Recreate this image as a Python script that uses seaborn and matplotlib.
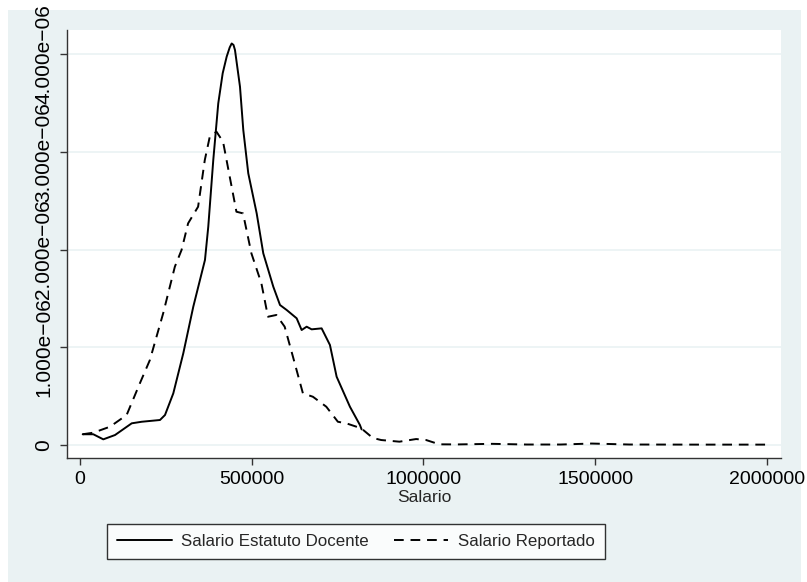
import matplotlib
matplotlib.use('Agg')
import matplotlib.pyplot as plt
import seaborn as sns
import numpy as np
import pandas as pd
from matplotlib.patches import Rectangle

# kernel density, values (y in units of 1e-06)
x_docente = [7850, 38700, 67800, 101900, 150600, 179700, 232900, 247500, 271700,
             300800, 329900, 363900, 373500, 388100, 402600, 415500, 427100,
             436000, 441700, 447000, 451300, 465900, 475500, 490000, 514500, 533700, 562900,
             582400, 601800, 630900, 645400, 660000, 674500, 703600, 727800,
             747300, 786000, 815100, 820000]
y_docente = [0.110, 0.110, 0.058, 0.102, 0.222, 0.238, 0.256, 0.307, 0.529,
             0.939, 1.416, 1.894, 2.234, 2.917, 3.497, 3.805, 3.975,
             4.070, 4.110, 4.095, 4.043, 3.667, 3.224, 2.781, 2.371, 1.962, 1.620,
             1.433, 1.382, 1.297, 1.177, 1.211, 1.184, 1.194, 1.024,
             0.699, 0.392, 0.205, 0.160]

x_reportado = [7850, 38700, 87200, 135800, 174400, 203500, 242200, 276200,
               295700, 314800, 343900, 363400, 377900, 397400, 416600, 436000,
               455500, 474700, 499100, 528200, 547400, 571800, 596000, 620100,
               649100, 678200, 717200, 750900, 775300, 818900, 852600, 877000,
               930200, 978700, 1007800, 1046500, 1100000, 1200000, 1300000,
               1400000, 1490000, 1600000, 1800000, 2000000]
y_reportado = [0.110, 0.126, 0.187, 0.307, 0.632, 0.870, 1.348, 1.825,
               1.996, 2.269, 2.439, 2.917, 3.156, 3.207, 3.104, 2.746,
               2.388, 2.371, 1.962, 1.655, 1.313, 1.331, 1.211, 0.904,
               0.529, 0.494, 0.392, 0.238, 0.222, 0.171, 0.072, 0.051,
               0.034, 0.061, 0.051, 0.007, 0.006, 0.012, 0.005,
               0.005, 0.015, 0.005, 0.004, 0.004]

x_ticks = [0, 500000, 1000000, 1500000, 2000000]
y_ticks = [0, 1, 2, 3, 4]
y_ticklabels = ['0', '1.000e\u221206', '2.000e\u221206', '3.000e\u221206', '4.000e\u221206']

df1 = pd.DataFrame({'x': x_docente, 'y': np.array(y_docente) * 1e-6})
df2 = pd.DataFrame({'x': x_reportado, 'y': np.array(y_reportado) * 1e-6})

sns.set_style('white')
plt.rcParams['font.family'] = ['Liberation Sans', 'DejaVu Sans']

W, H = 807, 582
fig = plt.figure(figsize=(W / 100, H / 100), dpi=100)
fig.patch.set_facecolor('white')
bg = '#eaf2f3'
fig.patches.append(Rectangle((8 / W, 0), (801 - 8) / W, 1 - 10 / H,
                             transform=fig.transFigure, facecolor=bg,
                             edgecolor='none', zorder=-5))

ax = fig.add_axes([67 / W, 1 - 458 / H, (781 - 67) / W, (458 - 30) / H])
ax.set_facecolor('white')

sns.lineplot(data=df1, x='x', y='y', ax=ax, color='black', lw=1.4,
             label='Salario Estatuto Docente', estimator=None, sort=False)
sns.lineplot(data=df2, x='x', y='y', ax=ax, color='black', lw=1.4,
             label='Salario Reportado', estimator=None, sort=False,
             linestyle=(0, (5, 3.5)))

ax.set_xlim(-37860, 2041300)
ax.set_ylim(-0.133e-6, 4.248e-6)
ax.set_xticks(x_ticks)
ax.set_xticklabels([str(v) for v in x_ticks], fontsize=14)
ax.set_yticks([v * 1e-6 for v in y_ticks])
ax.set_yticklabels(y_ticklabels, fontsize=15, rotation=90, va='center')
for t in ax.get_yticklabels():
    t.set_clip_on(False)

ax.grid(axis='y', color=bg, lw=1.2)
ax.grid(axis='x', visible=False)
ax.set_axisbelow(True)
for s in ['top', 'right']:
    ax.spines[s].set_visible(False)
for s in ['left', 'bottom']:
    ax.spines[s].set_color('#333333')
    ax.spines[s].set_linewidth(1.0)
ax.tick_params(axis='both', direction='out', length=5, width=1,
               color='#333333', labelcolor='black', left=True, bottom=True)
ax.tick_params(axis='y', pad=5)
ax.tick_params(axis='x', pad=4)

ax.set_xlabel('Salario', fontsize=12.5, labelpad=2)
ax.set_ylabel('')

ax.get_legend().remove()
leg = fig.legend(*ax.get_legend_handles_labels(), loc='center',
                 bbox_to_anchor=(356 / W, 1 - 541.5 / H), ncol=2,
                 frameon=True, fancybox=False, edgecolor='black',
                 handlelength=3.2, handletextpad=0.55, columnspacing=1.5,
                 borderpad=0.6, prop={'size': 12.2})
leg.get_frame().set_linewidth(1.0)
leg.get_frame().set_facecolor('white')

fig.savefig('out.png', dpi=100, facecolor='white')
